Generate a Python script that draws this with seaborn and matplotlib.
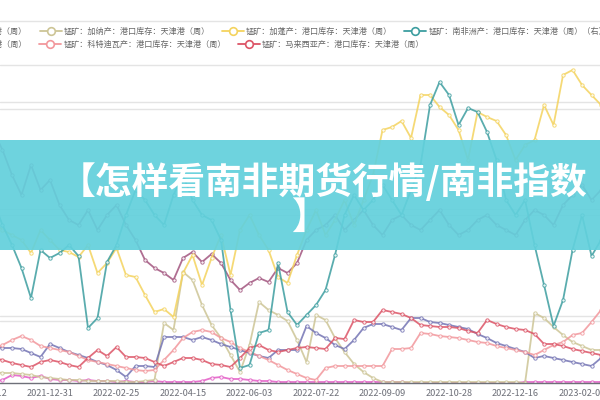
import numpy as np
import pandas as pd
import matplotlib
matplotlib.use("Agg")
import matplotlib.pyplot as plt
from matplotlib.lines import Line2D
from matplotlib.patches import Rectangle
from matplotlib.ticker import FixedLocator
import seaborn as sns

# weekly dates (no report in the Spring Festival week)
dates = pd.date_range("2021-11-19", periods=66, freq="7D")
dates = dates[dates != pd.Timestamp("2022-02-04")]
week_labels = list(dates.strftime("%Y-%m-%d"))
pos = np.arange(len(dates))

# port stocks, Tianjin (arbitrary units)
south_africa = [183, 158, 138, 115, 85, 133, 125, 130, 138, 127, 55, 65, 121, 138, 168, 193, 183, 168, 158, 188,
                208, 183, 168, 163, 143, 73, 15, 18, 50, 53, 120, 71, 58, 68, 78, 93, 128, 168, 188, 173,
                183, 198, 183, 168, 193, 218, 278, 301, 288, 258, 275, 271, 251, 223, 183, 168, 183, 138, 98, 57,
                83, 133, 168, 127, 143]
gabon = [163, 153, 148, 143, 130, 153, 143, 133, 131, 126, 138, 110, 120, 135, 108, 106, 88, 71, 74, 66,
         110, 128, 98, 125, 148, 108, 153, 168, 148, 133, 106, 100, 128, 153, 173, 148, 163, 183, 158, 183,
         208, 253, 256, 262, 245, 288, 288, 276, 268, 253, 223, 271, 266, 262, 248, 223, 238, 243, 278, 258,
         308, 313, 298, 288, 278]
ghana = [11, 10, 10, 9, 8, 6, 5, 4, 3, 3, 2, 2, 2, 2, 1, 1, 2, 3, 60, 53,
         111, 103, 78, 58, 45, 28, 11, 38, 81, 73, 68, 62, 43, 21, 68, 63, 45, 31, 19, 11,
         5, 1, 1, 1, 1, 1, 1, 1, 1, 1, 1, 1, 1, 1, 1, 1, 0, 70, 65, 56,
         48, 41, 37, 33, 33]
australia = [253, 233, 208, 188, 218, 193, 203, 178, 163, 158, 173, 153, 168, 178, 158, 143, 123, 115, 110, 103,
             125, 131, 121, 129, 120, 103, 93, 100, 105, 101, 115, 110, 120, 143, 153, 158, 168, 153, 163, 173,
             158, 148, 163, 168, 158, 153, 163, 173, 158, 148, 153, 163, 168, 158, 153, 148, 163, 173, 168, 158,
             178, 188, 198, 183, 193]
brazil = [37, 35, 35, 34, 30, 26, 39, 35, 31, 28, 25, 21, 18, 13, 6, 17, 17, 16, 46, 46,
          46, 43, 46, 43, 39, 36, 33, 30, 27, 25, 33, 33, 33, 57, 50, 45, 38, 34, 43, 55,
          59, 59, 56, 53, 65, 65, 61, 60, 58, 56, 54, 49, 45, 40, 37, 34, 31, 25, 27, 25,
          23, 21, 19, 17, 25]
malaysia = [25, 23, 20, 18, 16, 21, 23, 21, 18, 16, 25, 33, 27, 36, 26, 26, 25, 21, 17, 21,
            25, 25, 23, 19, 18, 16, 25, 35, 38, 33, 31, 33, 35, 36, 35, 34, 45, 44, 63, 61,
            61, 73, 71, 69, 65, 58, 57, 56, 56, 55, 52, 50, 63, 59, 56, 54, 53, 49, 39, 39,
            37, 34, 32, 30, 28]
cote_divoire = [33, 38, 43, 47, 43, 37, 35, 33, 31, 27, 23, 21, 19, 17, 15, 13, 12, 13, 23, 33,
                45, 51, 53, 51, 45, 41, 35, 31, 27, 23, 18, 13, 9, 5, 3, 15, 17, 17, 17, 17,
                17, 17, 34, 34, 35, 50, 49, 47, 46, 45, 43, 41, 40, 37, 35, 33, 31, 28, 33, 38,
                41, 48, 50, 61, 73]
indonesia = [1, 3, 8, 7, 5, 7, 4, 3, 3, 2, 3, 2, 2, 1, 2, 1, 1, 2, 1, 1,
             1, 1, 2, 5, 6, 4, 4, 3, 2, 2, 1, 1, 1, 1, 1, 1, 1, 1, 1, 1,
             1, 1, 1, 1, 0, 0, 0, 0, 0, 0, 0, 0, 0, 0, 0, 0, 1, 1, 1, 1,
             1, 1, 1, 1, 1]

names = {
    "brazil": "锰矿：巴西产：港口库存：天津港（周）",
    "ghana": "锰矿：加纳产：港口库存：天津港（周）",
    "gabon": "锰矿：加蓬产：港口库存：天津港（周）",
    "south_africa": "锰矿：南非洲产：港口库存：天津港（周）（右）",
    "indonesia": "锰矿：印度尼西亚产：港口库存：天津港（周）",
    "australia": "锰矿：澳大利亚产：港口库存：天津港（周）",
    "cote_divoire": "锰矿：科特迪瓦产：港口库存：天津港（周）",
    "malaysia": "锰矿：马来西亚产：港口库存：天津港（周）",
}
colors = {
    "brazil": "#7474b4", "ghana": "#cdc596", "gabon": "#f4d35e", "south_africa": "#3d9ea0",
    "indonesia": "#e35cc6", "australia": "#a2557f", "cote_divoire": "#f2979c", "malaysia": "#dc5466",
}

sns.set_style("white")
plt.rcParams["font.family"] = ["Noto Sans CJK SC", "DejaVu Sans"]
plt.rcParams["axes.unicode_minus"] = False

fig = plt.figure(figsize=(6, 4), dpi=100)
ax = fig.add_axes([0, 17 / 400, 1, 383 / 400])
ax2 = ax.twinx()

left_series = [("indonesia", indonesia), ("ghana", ghana), ("brazil", brazil), ("cote_divoire", cote_divoire),
               ("malaysia", malaysia), ("australia", australia), ("gabon", gabon)]
for key, vals in left_series:
    sns.lineplot(x=pos, y=vals, ax=ax, color=colors[key], lw=1.3, alpha=0.85, marker="o", markersize=2.4,
                 markerfacecolor="white", markeredgecolor=colors[key], markeredgewidth=0.7)
sns.lineplot(x=pos, y=south_africa, ax=ax2, color=colors["south_africa"], lw=1.3, alpha=0.85, marker="o",
             markersize=2.4, markerfacecolor="white", markeredgecolor=colors["south_africa"], markeredgewidth=0.7)

for a in (ax, ax2):
    a.set_ylim(0, 383)
    a.set_xlim(0.737, 63.89)
    a.set_ylabel("")
    for s in a.spines.values():
        s.set_visible(False)

ax.set_yticks([62, 67, 168, 174, 274, 281, 318, 362])
ax.grid(axis="y", color="#e4e4e4", lw=1)
ax.tick_params(axis="y", left=False, labelleft=False)
ax2.set_yticks([])
ax2.tick_params(axis="y", right=False, labelright=False)

ax.spines["bottom"].set_visible(True)
ax.spines["bottom"].set_color("#6e7079")
ax.spines["bottom"].set_linewidth(1)
ax.set_xticks(pos[6::7])
ax.set_xticklabels(week_labels[6::7])
ax.xaxis.set_minor_locator(FixedLocator(np.arange(2.5, 64, 7)))
ax.tick_params(axis="x", which="major", length=0, pad=4, labelsize=6.6, labelcolor="#6e7079")
ax.tick_params(axis="x", which="minor", length=3, width=0.8, color="#6e7079", direction="out")
ax.annotate("2021-11-12", xy=(-1, 0), xycoords=("data", "axes fraction"), xytext=(0, -4),
            textcoords="offset points", ha="center", va="top", fontsize=6.6, color="#6e7079",
            annotation_clip=False)


def handle(key):
    return Line2D([], [], color=colors[key], lw=1.3, marker="o", markersize=5.5,
                  markerfacecolor="white", markeredgecolor=colors[key], markeredgewidth=1.2)


rows = [(["brazil", "ghana", "gabon", "south_africa"], -0.238, 1 - 31 / 400),
        (["indonesia", "australia", "cote_divoire", "malaysia"], -0.61, 1 - 44 / 400)]
for keys, x0, y0 in rows:
    leg = fig.legend([handle(k) for k in keys], [names[k] for k in keys], loc="center left",
                     bbox_to_anchor=(x0, y0), ncol=len(keys), frameon=False, fontsize=5.85,
                     labelcolor="#666666", handlelength=2.7, handletextpad=0.25, columnspacing=1.5,
                     borderpad=0, borderaxespad=0)

# banner overlay
fig.add_artist(Rectangle((0, 0.375), 1, 0.275, transform=fig.transFigure, facecolor="#62d0dc",
                         alpha=0.92, edgecolor="none", zorder=10))
fig.text(323 / 600, 1 - 183 / 400, "【怎样看南非期货行情/南非指数", ha="center", va="center", fontsize=26.5,
         fontweight="bold", color="white", zorder=11)
fig.text(310 / 600, 1 - 218 / 400, "】", ha="center", va="center", fontsize=26.5,
         fontweight="bold", color="white", zorder=11)

fig.savefig("out.png", dpi=100)
